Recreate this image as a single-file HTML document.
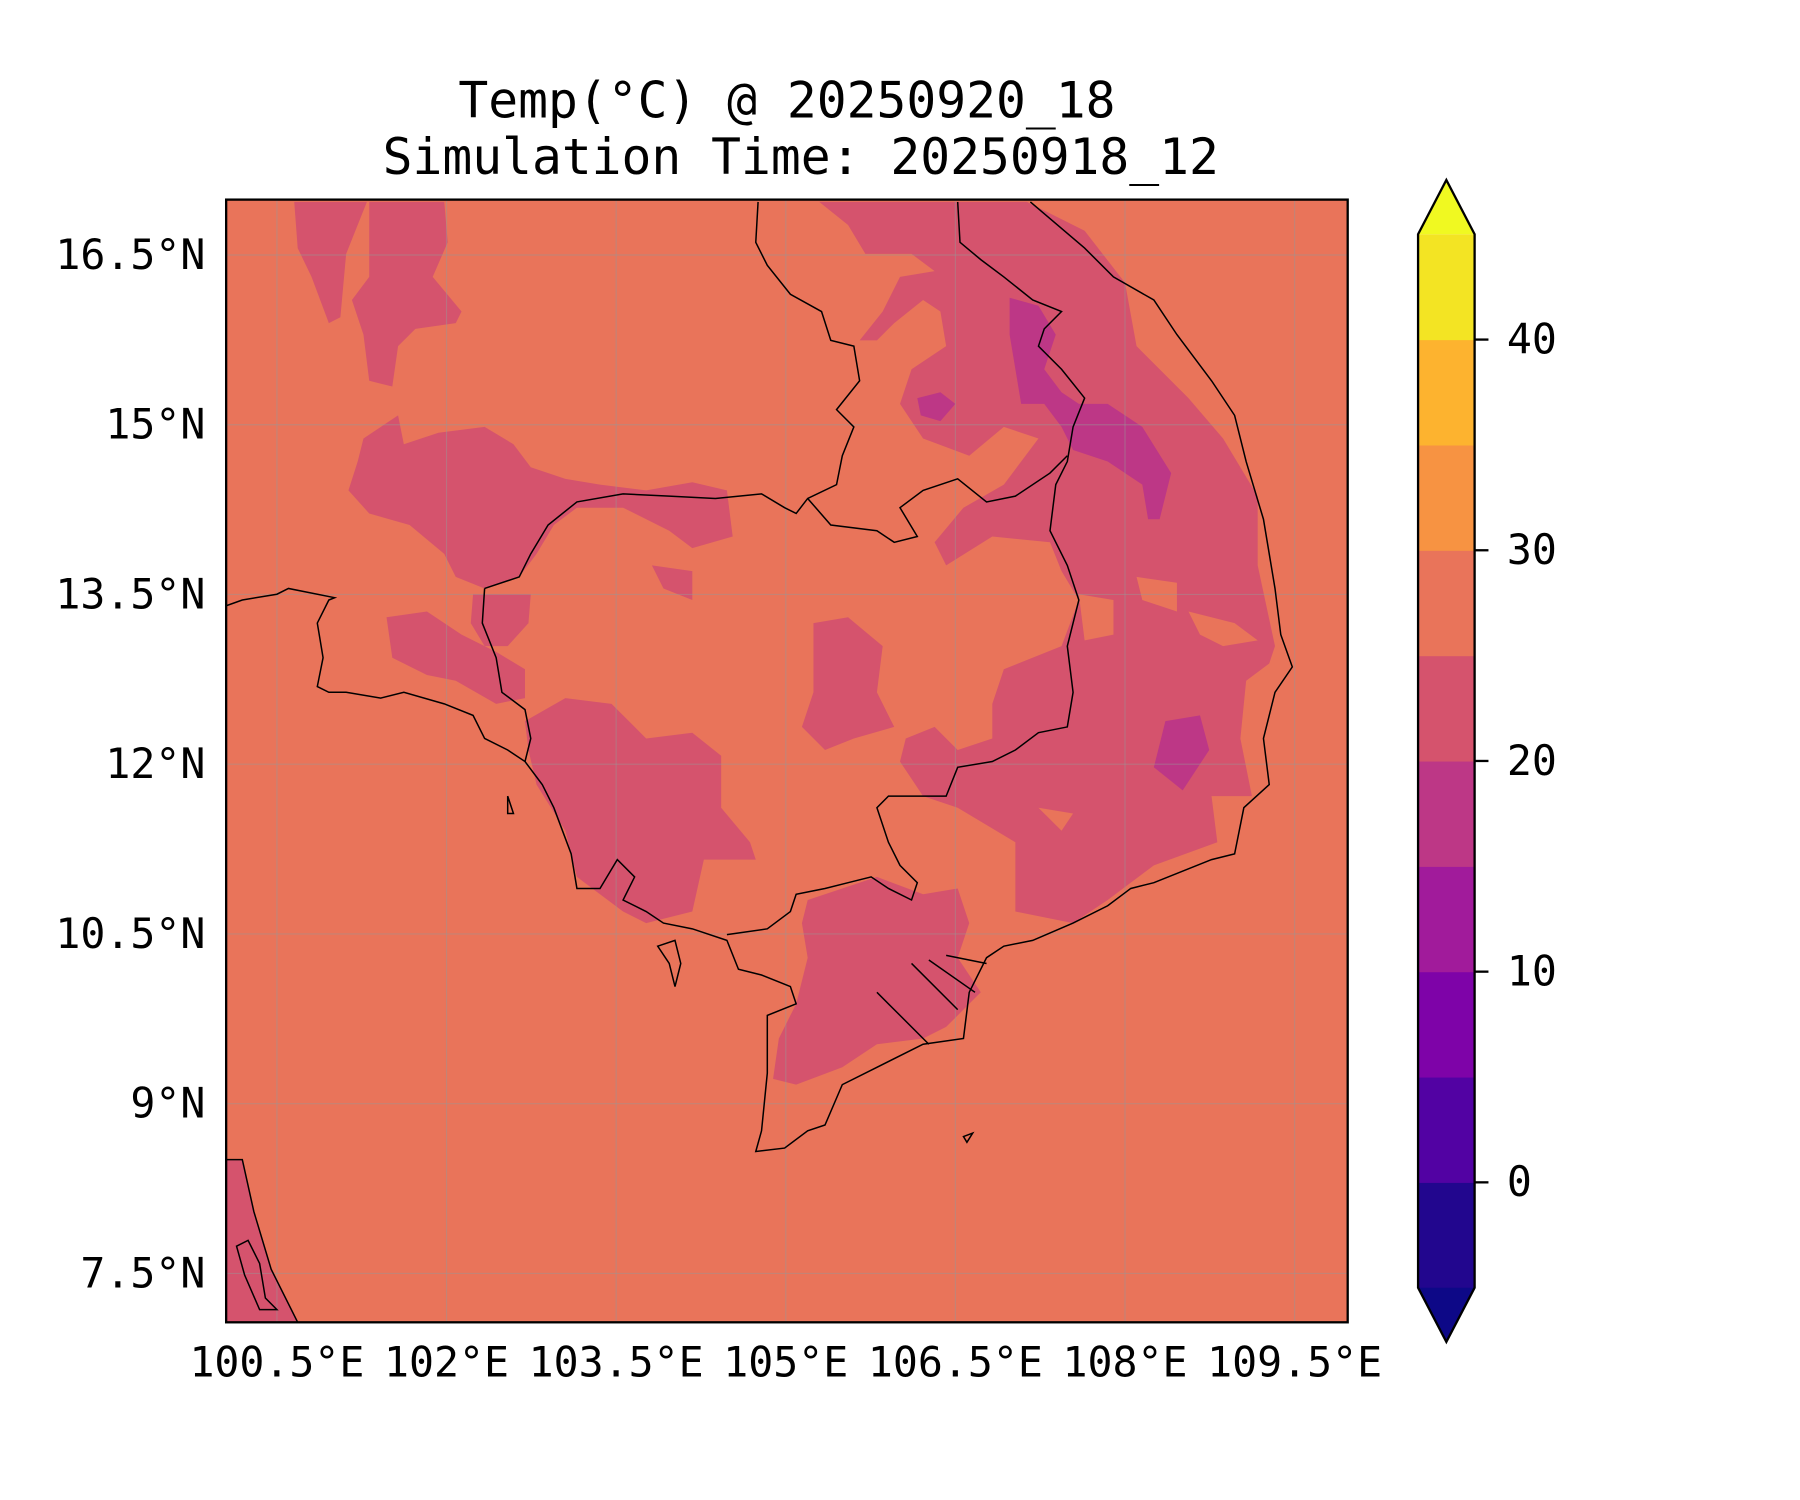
<!DOCTYPE html>
<html><head><meta charset="utf-8"><style>
html,body{margin:0;padding:0;background:#fff;width:1800px;height:1500px;overflow:hidden}
svg{display:block}
text{font-family:"DejaVu Sans Mono","Liberation Mono",monospace;fill:#000}
</style></head><body>
<svg id="fig" width="1800" height="1500" viewBox="0 0 1560 1300" xmlns="http://www.w3.org/2000/svg">
<text x="682" y="102" font-size="43" text-anchor="middle">Temp(°C) @ 20250920_18</text>
<text x="694" y="151" font-size="43" text-anchor="middle">Simulation Time: 20250918_12</text>
<defs><clipPath id="mapclip"><rect x="196" y="173" width="972" height="973"/></clipPath></defs>
<g id="map" clip-path="url(#mapclip)">
<rect x="196" y="173" width="972" height="973" fill="#e9745a"/>
<g fill="#d5536d">
<path d="M255,175 L318,175 300,220 295,275 285,280 270,240 258,215Z"/>
<path d="M320,175 L385,175 388,210 375,240 400,270 395,280 360,285 345,300 340,335 320,330 315,290 305,260 320,240Z"/>
<path d="M315,380 L345,360 350,385 380,375 420,370 445,385 460,405 490,415 520,420 560,425 600,418 630,425 635,465 600,475 580,460 540,440 500,440 480,455 465,480 450,500 420,510 395,500 385,480 355,455 320,445 302,425 310,400Z"/>
<path d="M455,625 L490,605 530,610 560,640 600,635 625,655 625,700 650,730 655,745 610,745 600,790 560,800 540,790 500,760 490,720 465,680 458,650Z"/>
<path d="M335,535 L370,530 400,550 430,565 455,580 455,605 430,610 395,590 370,585 340,570Z"/>
<path d="M410,515 L460,515 458,540 440,560 420,560 408,540Z"/>
<path d="M710,175 L890,175 940,200 975,245 985,300 1030,345 1060,380 1090,430 1090,490 1105,560 1100,575 1080,590 1075,640 1085,690 1050,690 1055,730 1000,750 960,780 930,800 880,790 880,730 830,700 800,690 780,660 785,640 810,630 830,650 860,640 860,610 870,580 920,560 935,520 920,495 910,470 860,465 820,490 810,470 835,440 870,420 900,380 870,370 840,395 800,380 780,350 790,320 820,300 815,270 800,260 775,280 760,295 745,295 765,270 780,240 810,235 790,220 750,220 735,195Z"/>
<path d="M700,780 L760,760 800,775 830,770 840,800 830,830 850,860 820,890 800,900 760,905 730,925 690,940 670,935 675,900 690,870 700,830 695,800Z"/>
<path d="M705,540 L735,535 765,560 760,600 775,630 740,640 715,650 695,630 705,600Z"/>
<path d="M565,490 L600,495 600,520 575,510Z"/>
<path d="M196,1005 L210,1005 220,1050 235,1100 258,1146 196,1146Z"/>
</g>
<g fill="#e9745a">
<path d="M985,500 L1020,505 1020,530 990,520Z"/>
<path d="M935,515 L965,520 965,550 940,555Z"/>
<path d="M1030,530 L1070,540 1090,555 1060,560 1040,550Z"/>
<path d="M880,470 L905,480 905,500 880,495Z"/>
<path d="M900,700 L930,705 920,720Z"/>
</g>
<g fill="#bd3786">
<path d="M875,258 L900,265 915,290 905,320 920,340 935,350 960,350 990,370 1015,410 1005,450 995,450 990,420 960,400 930,390 920,370 905,350 885,350 880,320 875,290Z"/>
<path d="M1010,625 L1040,620 1048,650 1025,685 1000,665Z"/>
<path d="M795,345 L815,340 828,350 815,365 798,360Z"/>
</g>
<g id="grid"></g>
<g fill="none" stroke="#000" stroke-width="1.3">
<path d="M893,175 L940,215 965,240 1000,260 1020,290 1050,330 1070,360 1080,400 1095,450 1105,510 1110,550 1120,578 1105,600 1095,640 1100,680 1078,700 1070,740 1050,745 1000,765 980,770 960,785 930,800 895,815 870,820 855,830 840,860 835,900 800,905 760,925 730,940 715,975 700,980 680,995 655,998 660,980 665,930 665,880 690,870 685,855 660,845 640,840 630,815 600,805 575,800 560,790 540,780 550,760 535,745 520,770 500,770 495,740 480,700 470,680 455,660 440,650 420,640 410,620 385,610 350,600 330,605 300,600 285,600 275,595 280,570 275,540 285,520 290,518 250,510 240,515 210,520 196,525"/>
<path d="M420,510 L450,500 460,480 475,455 500,435 540,428 580,430 620,432 660,428 680,440 690,445 700,432 725,420 730,395 740,370 725,355 745,330 740,300 720,295 712,270 685,255 665,230 655,210 657,175"/>
<path d="M700,432 L720,455 760,460 775,470 795,465 780,440 800,425 830,415 855,435 880,430 910,410 925,395"/>
<path d="M830,175 L832,210 850,225 870,240 895,260 920,270 905,285 900,300 920,320 940,345 930,370 925,400 915,420 910,460 925,490 935,520 925,560 930,600 925,630 900,635 880,650 860,660 830,665 820,690 790,690 770,690 760,700 770,730 780,750 795,765 790,780 770,770 755,760 735,765 715,770 690,775 685,790 665,805 630,810"/>
<path d="M420,510 L418,540 430,570 435,600 455,615 460,640 455,660"/>
<path d="M790,835 L830,875 M760,860 L805,905 M805,832 L845,860 M820,828 L855,835"/>
<path d="M196,1005 L210,1005 220,1050 235,1100 258,1146"/>
<path d="M205,1080 L215,1075 225,1095 230,1125 240,1135 225,1135 212,1105Z"/>
<path d="M570,820 L585,815 590,835 585,855 580,835Z"/>
<path d="M440,690 L445,705 440,705Z"/>
<path d="M835,985 L843,982 838,990Z"/>
</g>
</g>
<rect x="196" y="173" width="972" height="973" fill="none" stroke="#000" stroke-width="2"/>
<g id="ticks"></g>
<g id="cbar"></g>
</svg>
<script>
const lonTicks = [100.5, 102, 103.5, 105, 106.5, 108, 109.5];
const lonLabels = ["100.5°E","102°E","103.5°E","105°E","106.5°E","108°E","109.5°E"];
const latTicks = [16.5, 15, 13.5, 12, 10.5, 9, 7.5];
const latLabels = ["16.5°N","15°N","13.5°N","12°N","10.5°N","9°N","7.5°N"];
const levels = [-5, 0, 5, 10, 15, 20, 25, 30, 35, 40, 45];
const bandColors = ["#22068e","#5202a3","#7e03a8","#a11b9b","#bd3786","#d5536d","#e9745a","#f79342","#fdb32f","#f3e423"];
const extendLowColor = "#0d0887";
const extendHighColor = "#f0f921";
const cbTicks = [0, 10, 20, 30, 40];

const NS = "http://www.w3.org/2000/svg";
function x(lon){ return 240 + (lon - 100.5) * 98; }
function y(lat){ return 221 + (16.5 - lat) * 98.07; }
const cbTop = 203, cbBot = 1116, cbL = 1229, cbR = 1278;
function cy(v){ return cbBot - (v - levels[0]) / (levels[levels.length-1] - levels[0]) * (cbBot - cbTop); }
function mk(tag, attrs, parent){ const e = document.createElementNS(NS, tag); for (const k in attrs) e.setAttribute(k, attrs[k]); parent.appendChild(e); return e; }

const grid = document.getElementById('grid');
const ticks = document.getElementById('ticks');
lonTicks.forEach((lon, i) => {
  const g = mk('line', {x1:x(lon), x2:x(lon), y1:173, y2:1146, stroke:'rgba(150,150,150,0.45)', 'stroke-width':1}, grid);
  
  
  const t = mk('text', {x:x(lon), y:1193, 'font-size':36, 'text-anchor':'middle'}, ticks);
  t.textContent = lonLabels[i];
  
  
});
latTicks.forEach((lat, i) => {
  const g = mk('line', {x1:196, x2:1168, y1:y(lat), y2:y(lat), stroke:'rgba(150,150,150,0.45)', 'stroke-width':1}, grid);
  
  
  const t = mk('text', {x:178, y:y(lat)+12, 'font-size':36, 'text-anchor':'end'}, ticks);
  t.textContent = latLabels[i];
  
  
});

const cbar = document.getElementById('cbar');
bandColors.forEach((c, i) => {
  const r = mk('rect', {x:cbL, y:cy(levels[i+1]), width:cbR-cbL, height:cy(levels[i])-cy(levels[i+1])+0.5, fill:c}, cbar);
  
  
});
const lo = mk('polygon', {points:`${cbL},${cbBot} ${cbR},${cbBot} ${(cbL+cbR)/2},${cbBot+47}`, fill:extendLowColor}, cbar);


const hi = mk('polygon', {points:`${cbL},${cbTop} ${cbR},${cbTop} ${(cbL+cbR)/2},${cbTop-47}`, fill:extendHighColor}, cbar);


const outline = mk('polygon', {points:`${cbL},${cbTop} ${(cbL+cbR)/2},${cbTop-47} ${cbR},${cbTop} ${cbR},${cbBot} ${(cbL+cbR)/2},${cbBot+47} ${cbL},${cbBot}`, fill:'none', stroke:'#000', 'stroke-width':2}, cbar);


cbTicks.forEach(v => {
  const l = mk('line', {x1:cbR, x2:cbR+12, y1:cy(v), y2:cy(v), stroke:'#000', 'stroke-width':2}, cbar);
  
  
  const t = mk('text', {x:cbR+28, y:cy(v)+12, 'font-size':36}, cbar);
  t.textContent = String(v);
  
  
});
</script>
</body></html>
